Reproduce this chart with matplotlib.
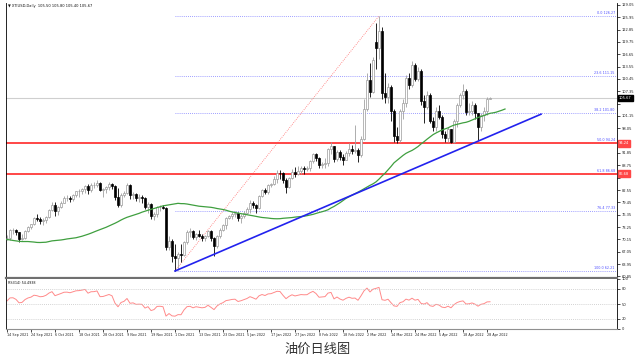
import numpy as np
import pandas as pd
import matplotlib
matplotlib.use("Agg")
import matplotlib.pyplot as plt
import matplotlib.transforms as mtransforms

# ---------------- data ----------------
symbol = "XTIUSD,Daily"
missing_days = ["2021-12-24", "2022-04-15"]
first_day, last_day = "2021-09-14", "2022-04-29"

opens = [
    70.4, 70.5, 72.5, 72.6, 71.9, 70.3, 70.5, 72.2, 73.3, 73.9, 75.4, 75.2, 74.8,
    75.0, 75.8, 77.6, 78.9, 77.4, 78.3, 79.3, 80.5, 80.6, 80.4, 81.3, 82.2, 82.4, 82.9, 83.6, 82.5, 83.7, 83.8, 84.4, 82.6, 82.7,
    83.3, 84.0, 83.6, 80.8, 78.9, 81.2, 81.9, 83.9, 81.2, 81.5, 80.6, 80.7, 80.6, 78.3, 79.0, 76.1, 76.6, 78.3, 78.4, 78.1, 68.2, 69.8,
    66.0, 65.4, 66.4, 66.2, 69.4, 72.0, 72.3, 70.8, 71.6, 71.1, 70.6, 70.9, 72.3, 70.6, 68.5, 71.0, 72.6, 73.7, 75.5, 76.0, 76.6, 76.8,
    75.4, 76.0, 76.9, 77.8, 79.4, 78.8, 78.1, 81.1, 82.5, 82.0, 83.7, 84.0, 85.4, 86.9, 86.8, 85.1, 83.4, 85.5, 87.2, 86.6, 87.3,
    88.0, 87.9, 88.0, 89.9, 91.5, 90.6, 88.9, 89.2, 89.4, 92.8, 93.6, 90.3, 92.1, 90.9, 90.2, 91.8, 92.9, 92.3, 92.5, 91.3,
    95.4, 103.0, 110.2, 107.2, 119.8, 118.3, 122.4, 107.0, 106.0, 108.5, 102.5, 96.0, 95.0, 102.5, 104.5, 110.8, 109.0, 114.0, 110.5, 112.5, 105.0, 103.5, 106.5,
    100.0, 98.5, 102.5, 101.0, 96.5, 95.5, 97.8, 94.5, 100.0, 104.0, 106.3, 107.5, 102.2, 102.5, 104.0, 102.0, 98.5, 101.5, 102.5, 105.5,
]
highs = [
    71.2, 72.7, 72.9, 72.8, 72.0, 71.5, 72.5, 73.6, 74.0, 75.8, 76.6, 75.8, 75.5,
    76.0, 77.8, 79.5, 79.5, 78.6, 79.8, 81.0, 81.3, 81.0, 81.5, 82.4, 82.9, 83.0, 83.9, 84.0, 84.3, 84.6, 85.0, 84.6, 83.0, 83.6,
    84.5, 84.3, 83.8, 83.0, 81.7, 82.2, 84.3, 84.0, 82.1, 81.9, 81.6, 81.3, 80.7, 79.6, 79.2, 77.1, 78.6, 78.9, 78.8, 78.2, 71.0, 70.3,
    69.1, 67.0, 69.0, 69.8, 72.4, 72.9, 72.6, 71.8, 72.4, 71.5, 71.2, 72.5, 72.4, 70.8, 71.3, 72.9, 73.9, 75.8, 76.4, 77.0, 77.2, 77.0,
    76.5, 77.4, 78.3, 80.0, 79.8, 79.0, 81.4, 82.9, 83.0, 84.0, 84.3, 86.1, 87.5, 87.6, 87.0, 85.5, 85.9, 87.9, 88.3, 88.5, 88.5,
    88.6, 88.6, 90.2, 91.8, 91.9, 90.9, 89.6, 90.6, 93.1, 94.6, 93.7, 92.5, 92.6, 91.5, 92.3, 94.3, 93.8, 99.0, 93.0, 96.0,
    105.5, 112.0, 114.5, 116.0, 124.5, 126.27, 123.5, 112.0, 109.5, 109.0, 103.0, 98.5, 103.0, 105.5, 111.5, 112.0, 115.0, 114.5, 113.5, 113.0, 106.5, 107.5, 107.0,
    101.0, 103.5, 104.0, 101.5, 97.5, 98.5, 98.0, 100.5, 104.5, 106.8, 109.3, 108.0, 104.5, 105.0, 104.5, 102.0, 102.0, 103.5, 106.0, 105.8,
]
lows = [
    69.9, 70.0, 71.6, 71.2, 69.6, 70.0, 70.2, 71.9, 72.8, 73.7, 74.7, 73.9, 73.7,
    74.3, 75.5, 77.3, 76.0, 76.3, 78.0, 79.2, 79.7, 79.5, 79.9, 80.9, 80.8, 81.6, 81.9, 81.6, 82.0, 83.0, 83.2, 82.2, 80.9, 81.8,
    82.5, 82.9, 80.0, 78.3, 78.3, 80.9, 81.5, 80.4, 80.4, 79.8, 79.6, 79.4, 77.9, 76.9, 75.3, 75.0, 75.8, 77.4, 77.8, 67.4, 67.5, 64.4,
    62.21, 62.5, 64.4, 66.0, 69.0, 70.8, 70.2, 70.0, 70.8, 69.8, 69.7, 70.7, 69.8, 66.1, 68.0, 70.6, 72.3, 72.7, 75.2, 75.3, 75.7, 74.8,
    74.3, 75.5, 76.6, 76.8, 78.0, 76.8, 77.9, 80.9, 81.5, 81.6, 83.4, 83.9, 84.2, 85.4, 84.2, 81.8, 83.1, 85.3, 85.9, 86.4, 86.6,
    86.6, 87.3, 87.4, 89.3, 89.8, 88.2, 88.0, 88.0, 88.7, 91.7, 89.5, 89.9, 90.2, 88.8, 90.0, 91.2, 91.6, 91.9, 89.6, 90.8,
    95.0, 102.5, 105.8, 107.0, 113.0, 115.5, 105.5, 104.5, 104.5, 100.0, 94.5, 94.3, 94.5, 100.5, 103.5, 108.0, 108.5, 110.0, 110.0, 104.0, 99.5, 103.0, 99.5,
    97.5, 97.5, 100.5, 95.5, 94.5, 94.5, 94.3, 94.3, 98.5, 103.5, 105.5, 101.5, 101.5, 101.5, 100.5, 95.0, 97.5, 100.0, 101.5, 105.4,
]
closes = [
    70.5, 72.5, 72.6, 71.9, 70.3, 70.5, 72.2, 73.3, 73.9, 75.4, 75.2, 74.8, 75.0,
    75.8, 77.6, 78.9, 77.4, 78.3, 79.3, 80.5, 80.6, 80.4, 81.3, 82.2, 82.4, 82.9, 83.6, 82.5, 83.7, 83.8, 84.4, 82.6, 82.7, 83.3,
    84.0, 83.6, 80.8, 78.9, 81.2, 81.9, 83.9, 81.2, 81.5, 80.6, 80.7, 80.6, 78.3, 79.0, 76.1, 76.6, 78.3, 78.4, 78.1, 68.2, 69.8, 66.0,
    65.4, 66.4, 66.2, 69.4, 72.0, 72.3, 70.8, 71.6, 71.1, 70.6, 70.9, 72.3, 70.6, 68.5, 71.0, 72.6, 73.7, 75.5, 76.0, 76.6, 76.8, 75.4,
    76.0, 76.9, 77.8, 79.4, 78.8, 78.1, 81.1, 82.5, 82.0, 83.7, 84.0, 85.4, 86.9, 86.8, 85.1, 83.4, 85.5, 87.2, 86.6, 87.3, 88.0,
    87.9, 88.0, 89.9, 91.5, 90.6, 88.9, 89.2, 89.4, 92.8, 93.6, 90.3, 92.1, 90.9, 90.2, 91.8, 92.9, 92.3, 92.5, 91.3, 95.4,
    103.0, 110.2, 107.2, 115.3, 118.3, 122.4, 107.0, 106.0, 108.5, 102.5, 96.0, 95.0, 102.5, 104.5, 110.8, 109.0, 114.0, 110.5, 112.5, 105.0, 103.5, 106.5, 100.0,
    98.5, 102.5, 101.0, 96.5, 95.5, 97.8, 94.5, 100.0, 104.0, 106.3, 107.5, 102.2, 102.5, 104.0, 102.0, 98.5, 101.5, 102.5, 105.4, 105.67,
]
# closes before the visible window (needed for MA / RSI warm-up)
hist_closes = [
    72.9, 73.0, 73.5, 75.2, 75.2, 75.5, 73.4, 72.2, 72.9, 74.6, 74.1, 75.3, 73.1, 71.7, 71.8,
    66.4, 67.4, 70.3, 71.9, 72.1, 71.9, 71.7, 72.4, 73.6, 74.0, 71.3, 70.6, 68.2, 69.1, 68.3,
    66.5, 68.3, 69.3, 69.1, 68.4, 67.3, 66.6, 65.5, 63.7, 62.3, 65.6, 67.5, 68.4, 67.4, 68.7,
    69.2, 68.5, 68.6, 70.0, 69.3, 69.0, 68.4, 69.3, 68.1, 69.7, 70.4,
]
ma_period, ma_shift = 50, 5
rsi_period = 14

fib_levels = [0.0, 23.6, 38.2, 50.0, 61.8, 76.4, 100.0]
red_line_levels = [50.0, 61.8]
trend_end_idx, trend_end_price = 178, 101.6

price_ticks = [60.85, 63.95, 67.05, 70.15, 73.25, 76.35, 79.45, 82.55, 85.65, 88.75,
               91.85, 94.95, 98.05, 101.15, 104.25, 107.35, 110.45, 113.55, 116.65,
               119.75, 122.85, 125.95, 129.05]
rsi_levels = [80, 50, 20]
rsi_ticks = [0, 20, 50, 80, 100]
date_labels = ["14 Sep 2021", "24 Sep 2021", "6 Oct 2021", "18 Oct 2021", "28 Oct 2021",
               "9 Nov 2021", "19 Nov 2021", "1 Dec 2021", "13 Dec 2021", "23 Dec 2021",
               "5 Jan 2022", "17 Jan 2022", "27 Jan 2022", "8 Feb 2022", "18 Feb 2022",
               "2 Mar 2022", "14 Mar 2022", "24 Mar 2022", "5 Apr 2022", "18 Apr 2022",
               "28 Apr 2022"]
title_text = "油价日线图"

# ---------------- derived ----------------
dates = pd.bdate_range(first_day, last_day).difference(pd.to_datetime(missing_days))
n = len(closes)
assert len(dates) == n == len(opens) == len(highs) == len(lows)
idx = np.arange(n)
o, h, l, c = map(np.asarray, (opens, highs, lows, closes))

full = pd.Series(hist_closes + closes)
full_x = np.arange(len(full)) - len(hist_closes)
sma = full.rolling(ma_period).mean().values
ma_x = full_x + ma_shift

delta = full.diff()
gain = delta.clip(lower=0).ewm(alpha=1 / rsi_period, adjust=False).mean()
loss = (-delta.clip(upper=0)).ewm(alpha=1 / rsi_period, adjust=False).mean()
rsi = (100 - 100 / (1 + gain / loss)).values

hi_i = int(np.argmax(h)); lo_i = int(np.argmin(l))
hi_p, lo_p = h[hi_i], l[lo_i]
fib_price = {lv: hi_p - (hi_p - lo_p) * lv / 100 for lv in fib_levels}

# ---------------- figure ----------------
W, H = 640, 359
fig = plt.figure(figsize=(W / 100, H / 100), dpi=100)
fig.patch.set_facecolor("white")

def px_rect(x0, y0, x1, y1):
    return [x0 / W, 1 - y1 / H, (x1 - x0) / W, (y1 - y0) / H]

ax = fig.add_axes(px_rect(6, 3, 617, 278))
ax_r = fig.add_axes(px_rect(6, 279, 617, 329))
xlim = (-1 / 3, 203.33)
fs_axis = 2.6
fs_small = 2.4

# candles
up = c >= o
ax.vlines(idx[up], l[up], h[up], color="#a0a0a0", lw=0.6, zorder=3)
ax.vlines(idx[~up], l[~up], h[~up], color="#000000", lw=0.6, zorder=3)
body_lo = np.minimum(o, c); body_h = np.maximum(np.abs(c - o), 0.08)
ax.bar(idx[up], body_h[up], bottom=body_lo[up], width=0.62, facecolor="white",
       edgecolor="#9a9a9a", lw=0.5, zorder=4)
ax.bar(idx[~up], body_h[~up], bottom=body_lo[~up], width=0.62, facecolor="black",
       edgecolor="black", lw=0.5, zorder=4)

# bid line
ax.axhline(c[-1], color="#cfcfcf", lw=0.8, zorder=1)

# moving average
ax.plot(ma_x, sma, color="#3f9f3f", lw=0.9, zorder=5)

# fibonacci
for lv in fib_levels:
    p = fib_price[lv]
    ax.plot([lo_i, xlim[1]], [p, p], color="#7f7fff", lw=0.6, ls=(0, (1, 1.5)), zorder=2)
    ax.text(202.6, p + 0.25, f"{lv:.1f} {p:.2f}", color="#5050ff", fontsize=fs_small,
            ha="right", va="bottom", zorder=6)
ax.plot([lo_i, hi_i], [lo_p, hi_p], color="#ff7070", lw=0.6, ls=(0, (1, 1.5)), zorder=2)

# red horizontal levels
for lv in red_line_levels:
    ax.axhline(fib_price[lv], color="#ff4646", lw=1.4, zorder=2)

# trendline
ax.plot([lo_i, trend_end_idx], [lo_p, trend_end_price], color="#2222ee", lw=1.2, zorder=5)

ax.set_xlim(*xlim)
ax.set_ylim(60.45, 129.53)
ax.set_xticks([])
ax.yaxis.tick_right()
boxed = [c[-1]] + [fib_price[lv] for lv in red_line_levels]
ax.set_yticks(price_ticks)
ax.set_yticklabels(["" if min(abs(t - b) for b in boxed) < 1.6 else f"{t:.2f}"
                    for t in price_ticks], fontsize=fs_axis, color="#222")
ax.tick_params(axis="y", length=2, width=0.5, pad=1.5)
ax.spines["top"].set_visible(False)
ax.spines["left"].set_linewidth(0.6)
ax.spines["right"].set_linewidth(0.6)
ax.spines["bottom"].set_color("#707070")
ax.spines["bottom"].set_linewidth(1.6)

# price boxes on axis
tr = mtransforms.blended_transform_factory(ax.transAxes, ax.transData)
ax.text(1.003, c[-1], f"{c[-1]:.2f}", transform=tr, fontsize=fs_axis, color="white",
        va="center", ha="left", zorder=10, clip_on=False,
        bbox=dict(boxstyle="square,pad=0.3", fc="black", ec="black"))
for lv in red_line_levels:
    ax.text(1.003, fib_price[lv], f"{fib_price[lv]:.2f}", transform=tr, fontsize=fs_axis,
            color="white", va="center", ha="left", zorder=10, clip_on=False,
            bbox=dict(boxstyle="square,pad=0.3", fc="#ff4646", ec="#ff4646"))

# header text
ax.text(0.003, 0.995, f"\u25bc {symbol}  {o[-1]:.2f} {h[-1]:.2f} {l[-1]:.2f} {c[-1]:.2f}",
        transform=ax.transAxes, fontsize=fs_axis, va="top", ha="left", color="#111")

# RSI panel
vis = full_x >= 0
ax_r.plot(full_x[vis], rsi[vis], color="#ff8a8a", lw=0.7)
for lv in rsi_levels:
    ax_r.axhline(lv, color="#c4c4c4", lw=0.6, ls=(0, (1, 1.5)))
ax_r.set_xlim(*xlim)
ax_r.set_ylim(0, 100)
ax_r.yaxis.tick_right()
ax_r.set_yticks(rsi_ticks)
ax_r.set_yticklabels([str(t) for t in rsi_ticks], fontsize=fs_axis, color="#222")
ax_r.tick_params(axis="y", length=2, width=0.5, pad=1.5)
tick_pos = [int(dates.get_loc(pd.to_datetime(d))) for d in date_labels]
ax_r.set_xticks(tick_pos)
ax_r.set_xticklabels(date_labels, fontsize=fs_small, ha="left", color="#222")
ax_r.tick_params(axis="x", length=2, width=0.5, pad=1.2)
ax_r.spines["top"].set_visible(False)
ax_r.spines["left"].set_linewidth(0.6)
ax_r.spines["right"].set_linewidth(0.6)
ax_r.spines["bottom"].set_color("#909090")
ax_r.spines["bottom"].set_linewidth(0.8)
ax_r.text(0.003, 0.97, f"RSI({rsi_period}) {rsi[-1]:.4f}", transform=ax_r.transAxes,
          fontsize=fs_small, va="top", ha="left", color="#111")

fig.text(318 / W, 1 - 349 / H, title_text, fontsize=9.5, ha="center", va="center",
         color="#333333", family=["Noto Sans CJK SC", "DejaVu Sans"])

fig.savefig("out.png", dpi=100, facecolor="white")
